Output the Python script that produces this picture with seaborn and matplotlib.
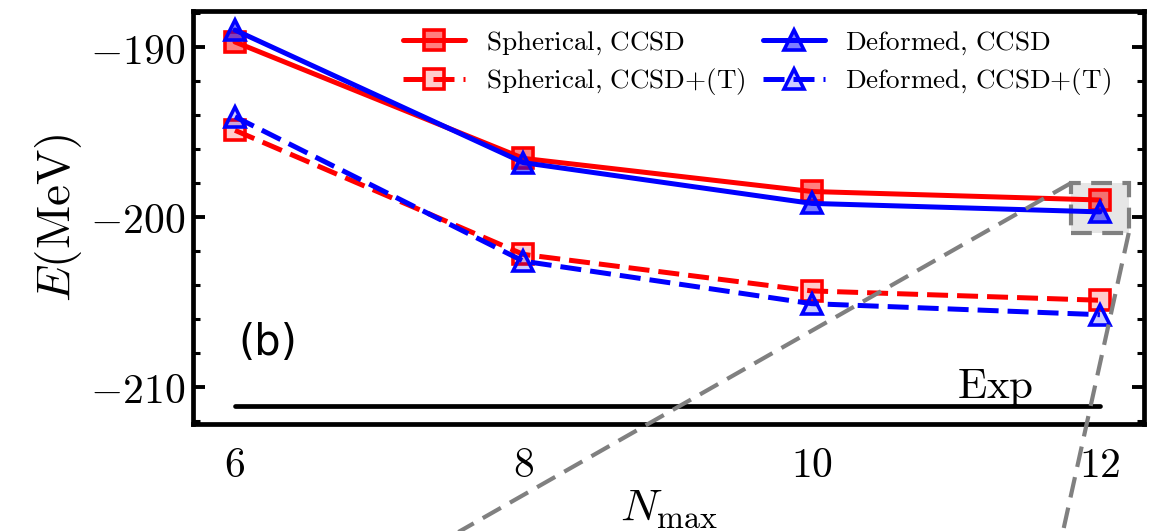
"""Coupled-cluster ground-state energy vs Nmax, spherical vs deformed reference."""
import numpy as np
import pandas as pd
import matplotlib
matplotlib.use("Agg")
import matplotlib.pyplot as plt
from matplotlib import ticker
from matplotlib.patches import Rectangle
import seaborn as sns

# Data
nmax = [6, 8, 10, 12]
sph_ccsd = [-189.7, -196.55, -198.5, -199.0]
sph_ccsdt = [-194.9, -202.2, -204.35, -204.9]
def_ccsd = [-189.0, -196.8, -199.2, -199.7]
def_ccsdt = [-194.1, -202.6, -205.1, -205.75]
exp_x = [6, 12]
exp_energy = [-211.15, -211.15]

# zoom box (x range, y range) and where the connector lines leave the figure
zoom_x = [11.8, 12.2]
zoom_y = [-198.0, -200.94]
conn_end_x = [6.73, 11.64]
conn_end_y = [-222.5, -222.5]

sns.set_style("ticks")
plt.rcParams["mathtext.fontset"] = "cm"
plt.rcParams["font.family"] = ["DejaVu Sans"]
for key in ["text.color", "axes.labelcolor", "xtick.color", "ytick.color", "axes.edgecolor"]:
    plt.rcParams[key] = "black"

fig = plt.figure(figsize=(11.53, 5.31), dpi=100)
ax = fig.add_axes([0.1678, 0.2006, 0.8248, 0.7796])

df = pd.DataFrame({"nmax": nmax, "sph_ccsd": sph_ccsd, "sph_ccsdt": sph_ccsdt,
                   "def_ccsd": def_ccsd, "def_ccsdt": def_ccsdt})

series = [
    ("sph_ccsd", r"$\mathrm{Spherical{,}\ CCSD}$", "red", "s", "-", 0.5),
    ("sph_ccsdt", r"$\mathrm{Spherical{,}\ CCSD{+}(T)}$", "red", "s", (0, (4.2, 1.8)), 0.2),
    ("def_ccsd", r"$\mathrm{Deformed{,}\ CCSD}$", "blue", "^", "-", 0.5),
    ("def_ccsdt", r"$\mathrm{Deformed{,}\ CCSD{+}(T)}$", "blue", "^", (0, (4.2, 1.8)), 0.2),
]
for col, label, color, marker, ls, alpha in series:
    face = matplotlib.colors.to_rgba(color, alpha)
    sns.lineplot(data=df, x="nmax", y=col, ax=ax, color=color, linewidth=3.6,
                 linestyle=ls, marker=marker, markersize=14, markeredgewidth=2.6,
                 markeredgecolor=color, markerfacecolor=face, label=label, zorder=3)

# experiment
sns.lineplot(x=exp_x, y=exp_energy, ax=ax, color="black", linewidth=3.4, zorder=3)
ax.text(11.01, -210.65, r"$\mathrm{Exp}$", fontsize=31, va="baseline", ha="left")
ax.text(0.047, 0.197, "(b)", fontsize=30, transform=ax.transAxes, va="center", ha="left")

# zoom region indicator
ax.add_patch(Rectangle((zoom_x[0], zoom_y[1]), zoom_x[1] - zoom_x[0], zoom_y[0] - zoom_y[1],
                       facecolor="#e6e6e6", edgecolor="gray", lw=3.0,
                       linestyle=(0, (5, 2.5)), zorder=1.5))
ax.plot([zoom_x[0], conn_end_x[0]], [zoom_y[0], conn_end_y[0]], color="gray", lw=3.0,
        linestyle=(0, (5, 2.5)), clip_on=False, zorder=6)
ax.plot([zoom_x[1], conn_end_x[1]], [zoom_y[1], conn_end_y[1]], color="gray", lw=3.0,
        linestyle=(0, (5, 2.5)), clip_on=False, zorder=6)

ax.set_xlim(5.712, 12.309)
ax.set_ylim(-212.21, -187.85)
ax.set_xticks(nmax)
ax.yaxis.set_major_locator(ticker.MultipleLocator(10))
ax.yaxis.set_minor_locator(ticker.MultipleLocator(2))
fmt = ticker.FuncFormatter(lambda v, p: rf"${v:.0f}$")
ax.xaxis.set_major_formatter(fmt)
ax.yaxis.set_major_formatter(fmt)
ax.tick_params(axis="y", which="both", direction="in", left=True, right=True,
               labelsize=30, pad=6, color="black", labelcolor="black")
ax.tick_params(axis="y", which="major", length=8.5, width=2.8)
ax.tick_params(axis="y", which="minor", length=5, width=2.2)
ax.tick_params(axis="x", which="both", length=0, labelsize=30, pad=14, labelcolor="black")
for sp in ax.spines.values():
    sp.set_linewidth(3.4)
    sp.set_color("black")
    sp.set_visible(True)

ax.set_xlabel(r"$N_{\mathrm{max}}$", fontsize=33, labelpad=0)
ax.set_ylabel(r"$E(\mathrm{MeV})$", fontsize=34, labelpad=4)

ax.legend(ncol=2, loc="upper right", bbox_to_anchor=(0.985, 1.0), frameon=False,
          fontsize=19.5, handlelength=2.3, handletextpad=0.75, columnspacing=0.65,
          labelspacing=0.35, borderaxespad=0.3)

fig.savefig("out.png", dpi=100)
